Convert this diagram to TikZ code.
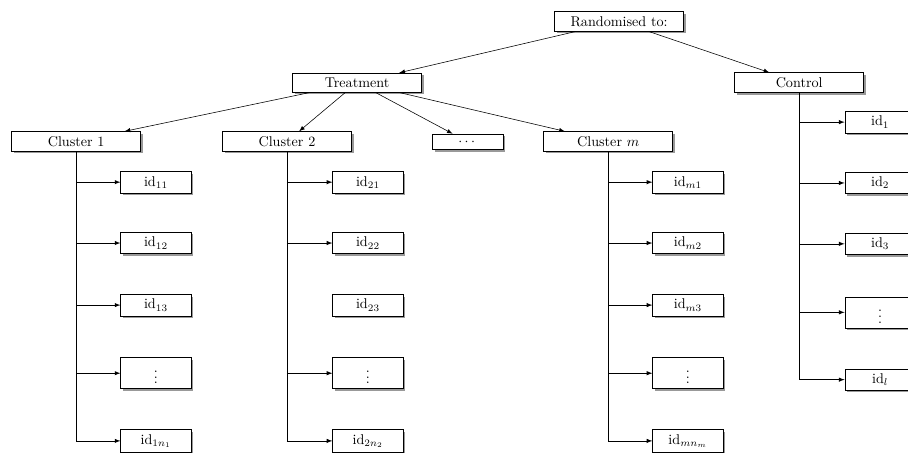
\documentclass[tikz,border=0pt]{standalone}
\usetikzlibrary{shadows}
\usetikzlibrary{arrows}
\usepackage{amssymb}
\usepackage{amsmath}

\begin{document}
\begin{tikzpicture}[box/.style={draw, fill=white, minimum width=3.2cm, drop shadow={shadow xshift=1.5pt, shadow yshift=-1.5pt, fill=black!40, opacity=1}},
member/.style={draw, fill=white, minimum width=1.75cm, drop shadow={shadow xshift=1.5pt, shadow yshift=-1.5pt, fill=black!40, opacity=1}},
dotsbox/.style={member, minimum height=0.77cm},>=latex, scale=1]

\useasboundingbox (0,0) rectangle (22.53,-11.22);
\clip (0,0) rectangle (22.53,-11.22);

\node[box] (rand) at (15.36,-0.53) {Randomised to:};
\node[box] (treat) at (8.86,-2.05) {Treatment};
\node[box] (ctrl) at (19.83,-2.05) {Control};
\node[box] (c1) at (1.89,-3.51) {Cluster 1};
\node[box] (c2) at (7.12,-3.51) {Cluster 2};
\node[member] (cdots) at (11.61,-3.52) {$\cdots$};
\node[box] (cm) at (15.09,-3.51) {Cluster $m$};

\node[member] (l11) at (3.87,-4.52) {id$_{11}$};
\node[member] (l12) at (3.87,-6.03) {id$_{12}$};
\node[member] (l13) at (3.87,-7.57) {id$_{13}$};
\node[dotsbox] (l1v) at (3.87,-9.26) {$\vdots$};
\node[member] (l1n) at (3.87,-10.94) {id$_{1n_1}$};

\node[member] (l21) at (9.13,-4.52) {id$_{21}$};
\node[member] (l22) at (9.13,-6.03) {id$_{22}$};
\node[member] (l23) at (9.13,-7.57) {id$_{23}$};
\node[dotsbox] (l2v) at (9.13,-9.26) {$\vdots$};
\node[member] (l2n) at (9.13,-10.94) {id$_{2n_2}$};

\node[member] (lm1) at (17.07,-4.52) {id$_{m1}$};
\node[member] (lm2) at (17.07,-6.03) {id$_{m2}$};
\node[member] (lm3) at (17.07,-7.57) {id$_{m3}$};
\node[dotsbox] (lmv) at (17.07,-9.26) {$\vdots$};
\node[member] (lmn) at (17.07,-10.94) {id$_{mn_m}$};

\node[member] (k1) at (21.84,-3.03) {id$_1$};
\node[member] (k2) at (21.84,-4.54) {id$_2$};
\node[member] (k3) at (21.84,-6.05) {id$_3$};
\node[dotsbox] (kv) at (21.84,-7.75) {$\vdots$};
\node[member] (kl) at (21.84,-9.42) {id$_l$};

\draw[->] (rand) -- (treat);
\draw[->] (rand) -- (ctrl);
\draw[->] (treat) -- (c1);
\draw[->] (treat) -- (c2);
\draw[->] (treat) -- (cdots);
\draw[->] (treat) -- (cm);

\draw (c1) -- (c1 |- l1n);
\draw[->] (c1 |- l11) -- (l11);
\draw[->] (c1 |- l12) -- (l12);
\draw[->] (c1 |- l13) -- (l13);
\draw[->] (c1 |- l1v) -- (l1v);
\draw[->] (c1 |- l1n) -- (l1n);

\draw (c2) -- (c2 |- l2n);
\draw[->] (c2 |- l21) -- (l21);
\draw[->] (c2 |- l22) -- (l22);
\draw[->] (c2 |- l2v) -- (l2v);
\draw[->] (c2 |- l2n) -- (l2n);

\draw (cm) -- (cm |- lmn);
\draw[->] (cm |- lm1) -- (lm1);
\draw[->] (cm |- lm2) -- (lm2);
\draw[->] (cm |- lm3) -- (lm3);
\draw[->] (cm |- lmv) -- (lmv);
\draw[->] (cm |- lmn) -- (lmn);

\draw (ctrl) -- (ctrl |- kl);
\draw[->] (ctrl |- k1) -- (k1);
\draw[->] (ctrl |- k2) -- (k2);
\draw[->] (ctrl |- k3) -- (k3);
\draw[->] (ctrl |- kv) -- (kv);
\draw[->] (ctrl |- kl) -- (kl);
\end{tikzpicture}
\end{document}
